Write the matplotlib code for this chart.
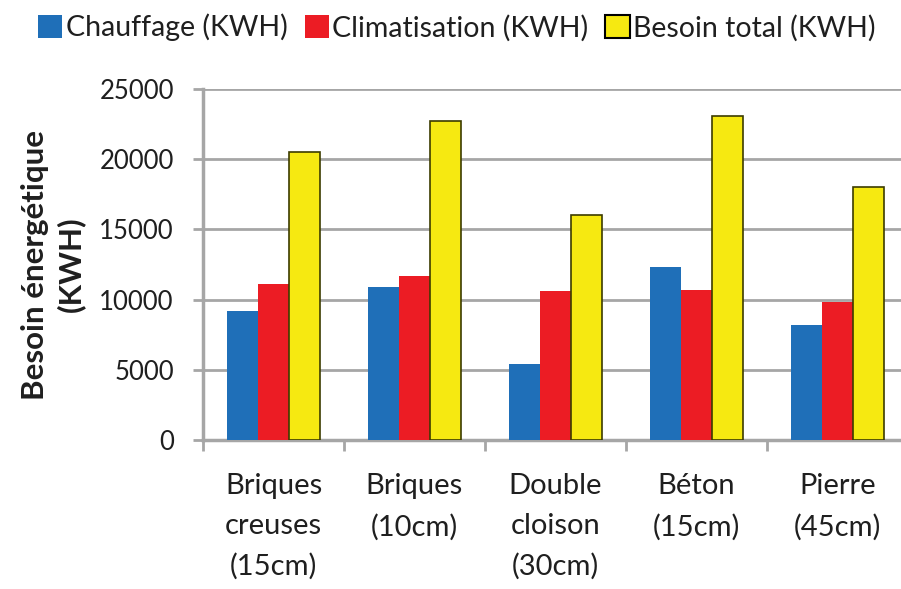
import numpy as np
import matplotlib.pyplot as plt
from matplotlib.patches import Patch

# wall types and energy needs (KWH)
murs = ["Briques\ncreuses\n(15cm)", "Briques\n(10cm)", "Double\ncloison\n(30cm)",
        "Béton\n(15cm)", "Pierre\n(45cm)"]
chauffage = [9200, 10900, 5400, 12300, 8200]
climatisation = [11100, 11700, 10600, 10700, 9800]
besoin_total = [20500, 22700, 16000, 23100, 18000]

bleu = "#1f6fb8"
rouge = "#ec1c24"
jaune = "#f6e911"
gris = "#a6a6a6"
texte = "#1f1f1f"

plt.rcParams['font.family'] = ['Lato', 'DejaVu Sans']

fig = plt.figure(figsize=(9.01, 5.89), dpi=100)
ax = fig.add_axes([203/901, 1-440/589, 705/901, 351/589])

x = np.arange(len(murs))
w = 0.22
ax.bar(x - w, chauffage, w, color=bleu, zorder=3)
ax.bar(x, climatisation, w, color=rouge, zorder=3)
ax.bar(x + w, besoin_total, w, color=jaune, edgecolor="#3c3c00", linewidth=1.2, zorder=3)

ax.set_xlim(-0.5, len(murs) - 0.5)
ax.set_ylim(0, 25000)
ax.set_yticks(range(0, 25001, 5000))
ax.yaxis.grid(True, color=gris, linewidth=2, zorder=0)

# boundaries between categories carry the ticks, labels sit in the middle
ax.set_xticks(np.arange(-0.5, len(murs)), minor=False)
ax.set_xticklabels([])
ax.set_xticks(x, minor=True)
ax.set_xticklabels(murs, minor=True, fontsize=21, color=texte, linespacing=1.65)
ax.tick_params(axis='x', which='major', length=8, width=2, color=gris)
ax.tick_params(axis='x', which='minor', length=0, pad=24)
ax.tick_params(axis='y', length=7, width=2, color=gris, labelsize=18.5,
               labelcolor=texte, pad=14)

for s in ["top", "right"]:
    ax.spines[s].set_visible(False)
for s in ["left", "bottom"]:
    ax.spines[s].set_color(gris)
    ax.spines[s].set_linewidth(2.5)

ax.set_ylabel("Besoin énergétique\n(KWH)", fontsize=22.5, fontweight="bold",
              color=texte, labelpad=10, linespacing=1.3)

handles = [Patch(facecolor=bleu), Patch(facecolor=rouge),
           Patch(facecolor=jaune, edgecolor="black", linewidth=1.5)]
fig.legend(handles, ["Chauffage (KWH)", "Climatisation (KWH)", "Besoin total (KWH)"],
           loc="upper center", bbox_to_anchor=(0.507, 1.02), ncol=3, frameon=False,
           fontsize=20.5, handlelength=0.85, handleheight=0.9, handletextpad=0.12,
           columnspacing=0.6, labelcolor=texte)

fig.savefig("out.png", dpi=100)
